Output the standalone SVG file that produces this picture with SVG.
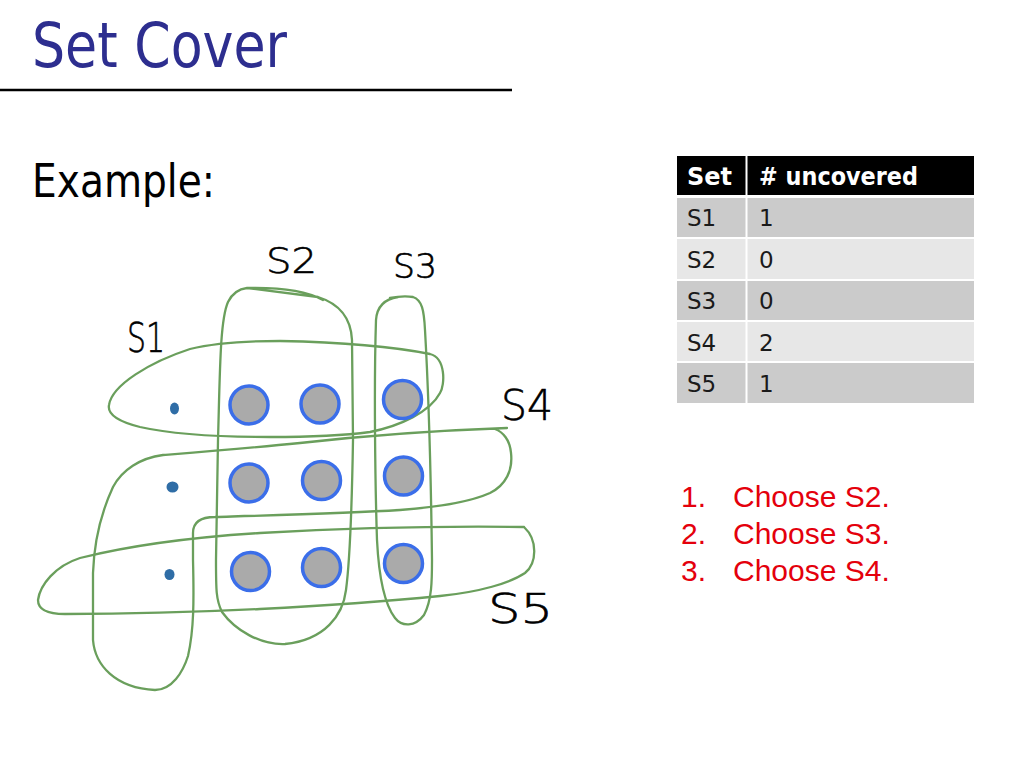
<svg xmlns="http://www.w3.org/2000/svg" width="1024" height="768" viewBox="0 0 1024 768">
<style>
.title{font-family:"DejaVu Sans","Liberation Sans",sans-serif;fill:#2d2e8f;font-size:62px}
.body{font-family:"DejaVu Sans","Liberation Sans",sans-serif;fill:#000;font-size:46px}
.th{font-family:"DejaVu Sans","Liberation Sans",sans-serif;font-weight:bold;fill:#fff;font-size:24px}
.td{font-family:"DejaVu Sans","Liberation Sans",sans-serif;fill:#1a1a1a;font-size:23px}
.odd{fill:#cbcbcb}
.even{fill:#e7e7e7}
.step{font-family:"Liberation Sans",Arial,sans-serif;fill:#e4000c;font-size:30px}
.set{fill:none;stroke:#6a9f5c;stroke-width:2.3;stroke-linecap:round;stroke-linejoin:round}
.el{fill:#aaaaaa;stroke:#3b6ee9;stroke-width:3.5}
.dot{fill:#2f6da6}
.hand{font-family:"DejaVu Sans","Liberation Sans",sans-serif;font-weight:200;fill:#000;stroke:#000;stroke-width:0.6}
</style>
<rect width="1024" height="768" fill="#fff"/>
<text class="title" x="32" y="67" textLength="255" lengthAdjust="spacingAndGlyphs">Set Cover</text>
<line x1="0" y1="90" x2="512" y2="90" stroke="#000" stroke-width="2.5"/>
<text class="body" x="32" y="197" textLength="183" lengthAdjust="spacingAndGlyphs">Example:</text>

<g id="table">
<rect x="677" y="156" width="297" height="39" fill="#000"/>
<rect class="odd" x="677" y="198" width="297" height="39"/>
<rect class="even" x="677" y="239" width="297" height="40"/>
<rect class="odd" x="677" y="281" width="297" height="39"/>
<rect class="even" x="677" y="322" width="297" height="39"/>
<rect class="odd" x="677" y="363" width="297" height="40"/>
<line x1="746.5" y1="156" x2="746.5" y2="403" stroke="#fff" stroke-width="2"/>
<text class="th" x="687" y="185">Set</text>
<text class="th" x="759" y="185" textLength="159" lengthAdjust="spacingAndGlyphs"># uncovered</text>
<text class="td" x="687" y="226">S1</text><text class="td" x="759" y="226">1</text>
<text class="td" x="687" y="268">S2</text><text class="td" x="759" y="268">0</text>
<text class="td" x="687" y="309">S3</text><text class="td" x="759" y="309">0</text>
<text class="td" x="687" y="351">S4</text><text class="td" x="759" y="351">2</text>
<text class="td" x="687" y="392">S5</text><text class="td" x="759" y="392">1</text>
</g>

<g id="steps">
<text class="step" x="681" y="507">1.</text><text class="step" x="733" y="507">Choose S2.</text>
<text class="step" x="681" y="544">2.</text><text class="step" x="733" y="544">Choose S3.</text>
<text class="step" x="681" y="581">3.</text><text class="step" x="733" y="581">Choose S4.</text>
</g>

<g id="connectors">
<path id="S1-set" class="set" d="M 109,405 C 112,385 150,362 190,349 C 215,343 250,341 280,341 C 330,342 390,346 430,354 C 446,358 445,385 440,393 C 430,412 400,426 370,432 C 340,436 300,437 270,437 C 230,437 180,436 140,427 C 120,422 107,415 109,405 Z"/>
<path id="S2-set" class="set" d="M 247,288 C 290,287 312,294 323,300 M 318,297 C 340,304 351,318 352,340 L 353,440 C 352,500 350,560 346,590 C 343,615 325,640 285,644 C 260,645 235,630 222,612 C 216,600 216,590 216,560 L 218,440 C 220,370 220,320 228,302 C 232,294 238,289 247,288 Z"/>
<path id="S3-set" class="set" d="M 398,297 C 385,299 377,306 376,320 C 374,380 375,480 377,540 C 379,580 385,605 395,618 C 402,627 415,627 424,615 C 432,600 432,580 432,560 C 431,480 429,400 425,330 C 424,310 422,300 413,297 C 407,296 400,296 390,298"/>
<path id="S4-set" class="set" d="M 507,428 C 450,430 380,434 300,443 C 250,448 200,452 163,455 C 140,458 122,470 113,487 C 100,515 94,545 93,573 L 93,640 C 95,665 115,688 155,690 C 172,690 183,672 188,656 C 194,630 194,600 193,560 L 193,533 C 193,522 200,517 215,517 C 280,515 350,513 400,510 C 440,507 470,502 490,493 C 506,485 513,470 511,453 C 510,440 503,432 495,429"/>
<path id="S5-set" class="set" d="M 524,527 C 450,526 350,528 260,533 C 180,538 120,548 80,558 C 55,566 40,585 38,600 C 38,610 48,614 65,614 C 120,614 200,612 260,609 C 340,605 400,600 440,596 C 480,592 510,583 525,573 C 537,563 538,540 524,527"/>
</g>

<g id="labels">
<text class="hand" x="127" y="352" font-size="40" textLength="38" lengthAdjust="spacingAndGlyphs">S1</text>
<text class="hand" x="266" y="273" font-size="36" textLength="51" lengthAdjust="spacingAndGlyphs">S2</text>
<text class="hand" x="393" y="278" font-size="34" textLength="44" lengthAdjust="spacingAndGlyphs">S3</text>
<text class="hand" x="501" y="420" font-size="42" textLength="52" lengthAdjust="spacingAndGlyphs">S4</text>
<text class="hand" x="488" y="623" font-size="40" textLength="65" lengthAdjust="spacingAndGlyphs">S5</text>
</g>

<g id="elements">
<ellipse class="dot" cx="174.5" cy="408.5" rx="4.5" ry="6"/>
<ellipse class="dot" cx="172.5" cy="487" rx="6" ry="5.5"/>
<ellipse class="dot" cx="169.5" cy="574.5" rx="5" ry="5.5"/>
<circle class="el" cx="249" cy="405" r="19"/>
<circle class="el" cx="320" cy="404" r="19"/>
<circle class="el" cx="402.5" cy="399.5" r="19"/>
<circle class="el" cx="249" cy="483" r="19"/>
<circle class="el" cx="321.5" cy="480.5" r="19"/>
<circle class="el" cx="403.5" cy="476" r="19"/>
<circle class="el" cx="250.5" cy="571.5" r="19"/>
<circle class="el" cx="321.5" cy="567.5" r="19"/>
<circle class="el" cx="403.5" cy="563.5" r="19"/>
</g>
</svg>
